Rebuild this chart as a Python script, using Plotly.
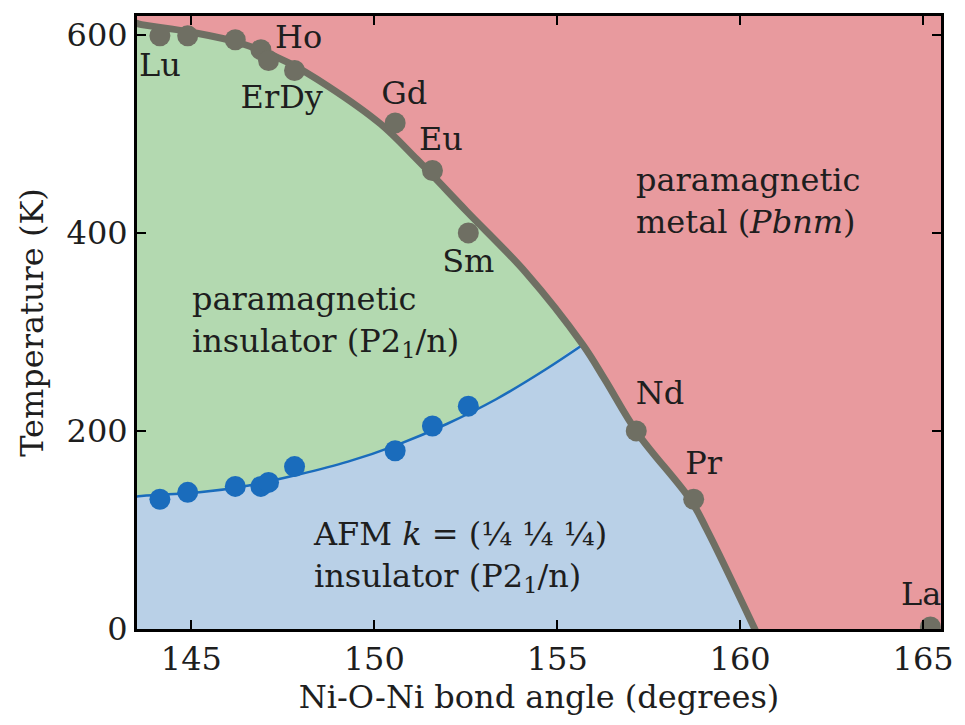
import plotly.graph_objects as go

# Rare-earth nickelates: metal-insulator transition (T_MI) and Neel (T_N) data
elements = ["Lu", "Yb", "Tm", "Er", "Ho", "Dy", "Gd", "Eu", "Sm", "Nd", "Pr", "La"]
angle_mi = [144.14, 144.90, 146.20, 146.90, 147.11, 147.82, 150.57, 151.59, 152.57, 157.16, 158.73, 165.2]
t_mi = [599, 599, 595, 585, 574, 564, 511, 463, 400, 200, 131, 2]

angle_n = [144.14, 144.90, 146.20, 146.90, 147.11, 147.82, 150.57, 151.59, 152.57]
t_n = [131, 138, 144, 144, 148, 164, 180, 205, 225]

# Phase boundary curves
mi_curve_x = [143.4, 143.55, 144.95, 146.30, 147.65, 148.74, 150.17, 151.17, 152.52, 154.14, 155.70, 156.30, 157.19, 158.65, 159.08, 160.40, 160.5]
mi_curve_y = [613, 611, 603, 592, 572, 548, 510, 474, 422, 360, 287, 252, 198, 130, 101, 0, -8]

n_curve_x = [143.4, 143.55, 145.22, 146.57, 147.93, 149.28, 150.63, 151.98, 153.33, 154.68, 155.70]
n_curve_y = [133, 134, 138, 145, 156, 169, 186, 207, 232, 262, 287]

x_ticks = [145, 150, 155, 160, 165]
y_ticks = [0, 200, 400, 600]

label_text = ["Lu", "Ho", "ErDy", "Gd", "Eu", "Sm", "Nd", "Pr", "La"]
label_x = [144.14, 147.93, 147.47, 150.82, 151.82, 152.57, 157.81, 159.0, 164.95]
label_y = [567, 595, 534, 538, 492, 369, 235, 165, 32]

GREY = "#6f6f63"
RED_BG = "#e89a9e"
GREEN = "#b3d9b0"
BLUE_FILL = "#b9d0e7"
BLUE = "#1a6cbc"
FONT = "DejaVu Serif"
TXT = "#1e1e1e"
FS = 32

fig = go.Figure()

# green region: under the metal-insulator line
fig.add_trace(go.Scatter(x=mi_curve_x, y=mi_curve_y, mode="lines", line=dict(width=0, shape="spline"),
                         fill="tozeroy", fillcolor=GREEN, hoverinfo="skip", showlegend=False))

# blue region: under the Neel line then under the MI line
k = mi_curve_x.index(155.70)
bx = n_curve_x + mi_curve_x[k + 1:]
by = n_curve_y + mi_curve_y[k + 1:]
fig.add_trace(go.Scatter(x=bx, y=by, mode="lines", line=dict(width=0, shape="spline", smoothing=0.6),
                         fill="tozeroy", fillcolor=BLUE_FILL, hoverinfo="skip", showlegend=False))

# Neel line
fig.add_trace(go.Scatter(x=n_curve_x, y=n_curve_y, mode="lines",
                         line=dict(color=BLUE, width=2.5, shape="spline"), showlegend=False))
# MI line
fig.add_trace(go.Scatter(x=mi_curve_x, y=mi_curve_y, mode="lines",
                         line=dict(color=GREY, width=7, shape="spline"), showlegend=False))

fig.add_trace(go.Scatter(x=angle_mi, y=t_mi, mode="markers", customdata=elements,
                         marker=dict(color=GREY, size=21), showlegend=False))
fig.add_trace(go.Scatter(x=angle_n, y=t_n, mode="markers", customdata=elements[:9],
                         marker=dict(color=BLUE, size=21), showlegend=False))

fig.add_trace(go.Scatter(x=label_x, y=label_y, mode="text", text=label_text,
                         textfont=dict(family=FONT, size=FS, color=TXT), showlegend=False,
                         hoverinfo="skip"))

anns = [
    (157.10, 432, "paramagnetic<br>metal (<i>Pbnm</i>)"),
    (144.95, 311, "paramagnetic<br>insulator (P2<sub>1</sub>/n)"),
    (148.28, 73, "AFM <i>k</i> = (¼ ¼ ¼)<br>insulator (P2<sub>1</sub>/n)"),
]
for ax_, ay_, t in anns:
    fig.add_annotation(x=ax_, y=ay_, text=t, showarrow=False, xanchor="left", yanchor="middle",
                       align="left", font=dict(family=FONT, size=FS, color=TXT))

axis_common = dict(showgrid=False, zeroline=False, ticks="inside", ticklen=9, tickwidth=1.5,
                   tickcolor="black", showline=True, linecolor="black", linewidth=3, mirror="ticks",
                   tickfont=dict(family=FONT, size=FS, color=TXT),
                   title_font=dict(family=FONT, size=FS, color=TXT))

fig.update_xaxes(range=[143.514, 165.49], tickvals=x_ticks, title_text="Ni-O-Ni bond angle (degrees)",
                 title_standoff=4, **axis_common)
fig.update_yaxes(range=[0, 619], tickvals=y_ticks, title_text="Temperature (K)",
                 title_standoff=14, **axis_common)

fig.update_layout(width=965, height=725, margin=dict(l=137, r=15, t=16, b=96),
                  plot_bgcolor=RED_BG, paper_bgcolor="white", showlegend=False)

fig.write_html("out.html")
